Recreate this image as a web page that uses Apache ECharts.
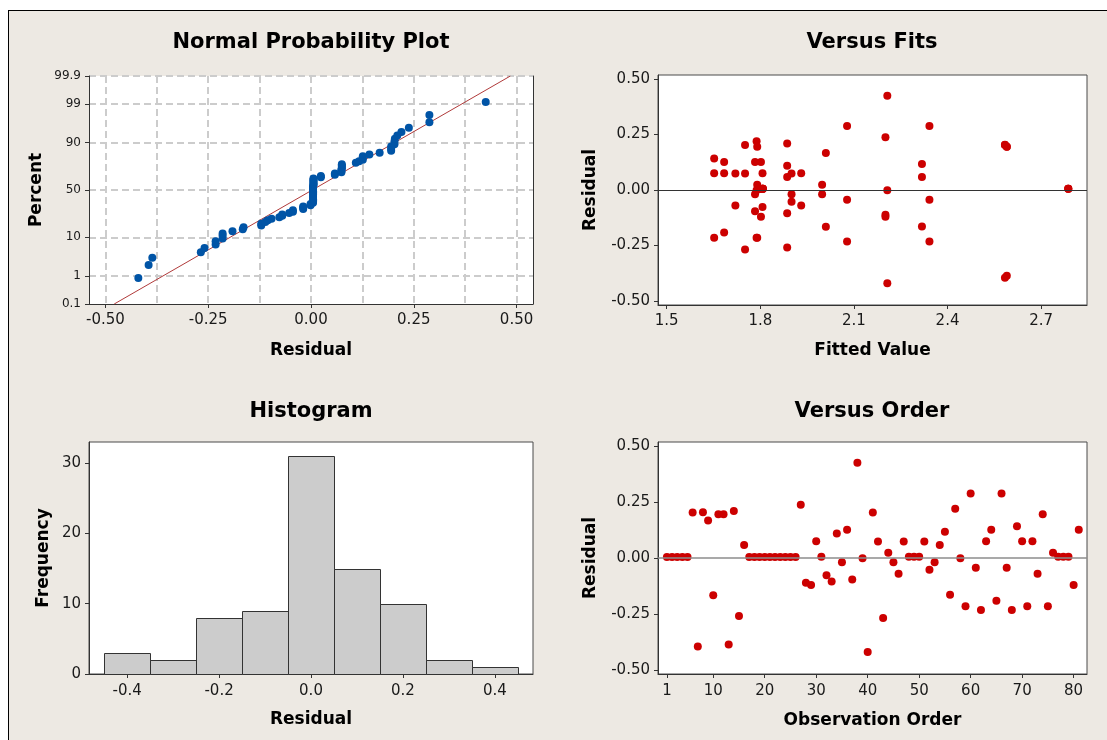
<!DOCTYPE html>
<html>
<head>
<meta charset="utf-8">
<title>Residual Plots</title>
<script src="https://cdn.jsdelivr.net/npm/echarts@6/dist/echarts.min.js"></script>
<style>
  html, body { margin: 0; padding: 0; background: #ffffff; width: 1107px; height: 740px; overflow: hidden; }
  #frame { position: absolute; left: 8px; top: 10px; width: 1099px; height: 730px; background: #EDE9E3;
           border-top: 1px solid #000; border-left: 1px solid #000; box-sizing: border-box; }
  #chart { position: absolute; left: 0; top: 0; width: 1107px; height: 740px; }
</style>
</head>
<body>
<div id="frame"></div>
<div id="chart"></div>
<script>
// Residuals in observation order (1..81)
const residuals = [
  0.005, 0.005, 0.005, 0.005, 0.005,
  0.203, -0.395, 0.204, 0.167, -0.166,
  0.195, 0.195, -0.386, 0.210, -0.259,
  0.058, 0.005, 0.005, 0.005, 0.005,
  0.005, 0.005, 0.005, 0.005, 0.005,
  0.005, 0.238, -0.111, -0.121, 0.075,
  0.006, -0.077, -0.105, 0.109, -0.019,
  0.126, -0.096, 0.425, -0.001, -0.420,
  0.203, 0.074, -0.268, 0.024, -0.019,
  -0.070, 0.074, 0.006, 0.006, 0.006,
  0.074, -0.053, -0.019, 0.058, 0.117,
  -0.164, 0.220, -0.001, -0.215, 0.288,
  -0.044, -0.232, 0.075, 0.126, -0.191,
  0.288, -0.044, -0.232, 0.142, 0.075,
  -0.215, 0.075, -0.070, 0.195, -0.215,
  0.024, 0.006, 0.006, 0.006, -0.121,
  0.126
];

// Fitted values, same order as the residuals
const fittedValues = [
  1.795, 1.795, 1.795, 1.795, 1.795,
  2.584, 2.584, 2.584, 2.010, 2.010,
  2.590, 2.590, 2.590, 1.886, 1.886,
  1.886, 1.800, 1.800, 1.800, 1.800,
  1.800, 1.800, 1.800, 1.800, 1.800,
  1.800, 2.201, 2.201, 2.201, 1.807,
  1.807, 1.807, 1.886, 1.886, 1.783,
  1.783, 1.783, 2.207, 2.207, 2.207,
  1.751, 1.751, 1.751, 1.998, 1.998,
  1.720, 1.720, 1.808, 1.808, 1.808,
  1.900, 1.900, 1.900, 2.318, 2.318,
  2.318, 1.788, 1.788, 1.788, 2.078,
  2.078, 2.078, 1.684, 1.684, 1.684,
  2.342, 2.342, 2.342, 1.652, 1.652,
  1.652, 1.931, 1.931, 1.790, 1.790,
  1.790, 2.787, 2.787, 2.787, 1.802,
  1.802
];

// Histogram of residuals
const histBinCenters = [-0.4, -0.3, -0.2, -0.1, 0.0, 0.1, 0.2, 0.3, 0.4];
const histCounts = [3, 2, 8, 9, 31, 15, 10, 2, 1];
const histBinWidth = 0.1;

// Tick values and labels
const percentTicks = [0.1, 1, 10, 50, 90, 99, 99.9];
const percentTickLabels = ['0.1', '1', '10', '50', '90', '99', '99.9'];
const percentGridTicks = [1, 10, 50, 90, 99, 99.9];
const nppResidualTicks = [-0.5, -0.25, 0, 0.25, 0.5];
const nppResidualGrid = [-0.5, -0.375, -0.25, -0.125, 0, 0.125, 0.25, 0.375, 0.5];
const residualTicks = [-0.5, -0.25, 0, 0.25, 0.5];
const fitTicks = [1.5, 1.8, 2.1, 2.4, 2.7];
const histResidualTicks = [-0.4, -0.2, 0, 0.2, 0.4];
const frequencyTicks = [0, 10, 20, 30];
const orderTicks = [1, 10, 20, 30, 40, 50, 60, 70, 80];

// Inverse standard normal CDF (Acklam's rational approximation)
function probit(p) {
  const a = [-3.969683028665376e+01, 2.209460984245205e+02, -2.759285104469687e+02, 1.383577518672690e+02, -3.066479806614716e+01, 2.506628277459239e+00];
  const b = [-5.447609879822406e+01, 1.615858368580409e+02, -1.556989798598866e+02, 6.680131188771972e+01, -1.328068155288572e+01];
  const c = [-7.784894002430293e-03, -3.223964580411365e-01, -2.400758277161838e+00, -2.549732539343734e+00, 4.374664141464968e+00, 2.938163982698783e+00];
  const d = [7.784695709041462e-03, 3.224671290700398e-01, 2.445134137142996e+00, 3.754408661907416e+00];
  const pl = 0.02425, ph = 1 - pl;
  let q, r;
  if (p < pl) {
    q = Math.sqrt(-2 * Math.log(p));
    return (((((c[0]*q+c[1])*q+c[2])*q+c[3])*q+c[4])*q+c[5]) / ((((d[0]*q+d[1])*q+d[2])*q+d[3])*q+1);
  }
  if (p <= ph) {
    q = p - 0.5; r = q * q;
    return (((((a[0]*r+a[1])*r+a[2])*r+a[3])*r+a[4])*r+a[5])*q / (((((b[0]*r+b[1])*r+b[2])*r+b[3])*r+b[4])*r+1);
  }
  q = Math.sqrt(-2 * Math.log(1 - p));
  return -(((((c[0]*q+c[1])*q+c[2])*q+c[3])*q+c[4])*q+c[5]) / ((((d[0]*q+d[1])*q+d[2])*q+d[3])*q+1);
}

const n = residuals.length;
const zTicks = percentTicks.map(p => probit(p / 100));
const zGrid = percentGridTicks.map(p => probit(p / 100));
const zMin = zTicks[0], zMax = zTicks[zTicks.length - 1];

// Normal probability points: sorted residuals against median-rank percentiles
const sorted = residuals.slice().sort((u, v) => u - v);
const nppPoints = sorted.map((r, i) => [r, probit((i + 1 - 0.3) / (n + 0.4))]);

// Fitted normal line from the residual mean and standard deviation
const mean = residuals.reduce((s, v) => s + v, 0) / n;
const sd = Math.sqrt(residuals.reduce((s, v) => s + (v - mean) * (v - mean), 0) / (n - 1));
const nppLine = [[mean + sd * zMin, zMin], [mean + sd * zMax, zMax]];

const fitsPoints = fittedValues.map((f, i) => [f, residuals[i]]);
const orderPoints = residuals.map((r, i) => [i + 1, r]);
const histData = histBinCenters.map((c, i) => [c, histCounts[i]]);

const FONT = 'DejaVu Sans';
const AXIS_COLOR = '#333333';
const RED = '#CC0000';
const BLUE = '#0054A6';

const tickLabel = (size) => ({ fontFamily: FONT, fontSize: size, color: '#1a1a1a' });
const nameStyle = { fontFamily: FONT, fontSize: 17, fontWeight: 'bold', color: '#000' };
const gridDash = { color: '#CCCCCC', width: 2, type: [7, 4] };
const hidden = { show: false };

const grids = [
  { left: 89, top: 76, width: 444, height: 228, show: true, backgroundColor: '#ffffff', borderWidth: 0 },
  { left: 658, top: 75, width: 429, height: 230, show: true, backgroundColor: '#ffffff', borderColor: '#4a4a4a', borderWidth: 1 },
  { left: 89, top: 442, width: 444, height: 232, show: true, backgroundColor: '#ffffff', borderColor: '#4a4a4a', borderWidth: 1 },
  { left: 658, top: 442, width: 429, height: 232, show: true, backgroundColor: '#ffffff', borderColor: '#4a4a4a', borderWidth: 1 }
];

function valueXAxis(gridIndex, min, max, ticks, fmt, name, nameGap, margin) {
  return {
    type: 'value', gridIndex, min, max, position: 'bottom',
    axisLine: { show: true, onZero: false, lineStyle: { color: AXIS_COLOR, width: 1 } },
    axisTick: { show: true, customValues: ticks, length: 4, lineStyle: { color: AXIS_COLOR } },
    axisLabel: Object.assign({ customValues: ticks, formatter: fmt, margin }, tickLabel(15)),
    splitLine: hidden,
    name, nameLocation: 'middle', nameGap, nameTextStyle: nameStyle
  };
}
function valueYAxis(gridIndex, min, max, ticks, fmt, name, nameGap, labelSize) {
  return {
    type: 'value', gridIndex, min, max, position: 'left',
    axisLine: { show: true, onZero: false, lineStyle: { color: AXIS_COLOR, width: 1 } },
    axisTick: { show: true, customValues: ticks, length: 4, lineStyle: { color: AXIS_COLOR } },
    axisLabel: Object.assign({ customValues: ticks, formatter: fmt, margin: 8 }, tickLabel(labelSize)),
    splitLine: hidden,
    name, nameLocation: 'middle', nameGap, nameRotate: 90, nameTextStyle: nameStyle
  };
}

const percentLabel = (v) => {
  let best = 0;
  zTicks.forEach((z, i) => { if (Math.abs(z - v) < Math.abs(zTicks[best] - v)) best = i; });
  return percentTickLabels[best];
};

const xAxes = [
  valueXAxis(0, -0.54, 0.54, nppResidualTicks, v => v.toFixed(2), 'Residual', 38, 9),
  { type: 'value', gridIndex: 0, min: -0.54, max: 0.54, position: 'top',
    axisLine: hidden, axisLabel: hidden,
    axisTick: { show: false, customValues: nppResidualGrid },
    splitLine: { show: true, lineStyle: gridDash } },
  valueXAxis(1, 1.472, 2.847, fitTicks, v => v.toFixed(1), 'Fitted Value', 37, 9),
  valueXAxis(2, -0.483, 0.483, histResidualTicks, v => v.toFixed(1), 'Residual', 37, 10),
  valueXAxis(3, -0.73, 82.6, orderTicks, v => String(v), 'Observation Order', 38, 10)
];

const yAxes = [
  valueYAxis(0, zMin, zMax, zTicks, percentLabel, 'Percent', 44, 12),
  { type: 'value', gridIndex: 0, min: zMin, max: zMax, position: 'right',
    axisLine: { show: true, onZero: false, lineStyle: { color: AXIS_COLOR, width: 1 } },
    axisLabel: hidden,
    axisTick: { show: false, customValues: zGrid },
    splitLine: { show: true, lineStyle: gridDash } },
  valueYAxis(1, -0.518, 0.518, residualTicks, v => v.toFixed(2), 'Residual', 59, 15),
  valueYAxis(2, 0, 33, frequencyTicks, v => String(v), 'Frequency', 37, 15),
  valueYAxis(3, -0.518, 0.518, residualTicks, v => v.toFixed(2), 'Residual', 59, 15)
];

const zeroLine = (xIdx, yIdx, color, width) => ({
  type: 'line', xAxisIndex: xIdx, yAxisIndex: yIdx, data: [], z: 1, silent: true,
  markLine: { silent: true, symbol: 'none', label: { show: false }, animation: false,
              lineStyle: { color, width, type: 'solid' }, data: [{ yAxis: 0 }] }
});

const titleText = (text, x, y) => ({
  type: 'text', x, y, silent: true,
  style: { text, fontFamily: FONT, fontSize: 21, fontWeight: 'bold', fill: '#000',
           align: 'center', verticalAlign: 'middle', textAlign: 'center', textVerticalAlign: 'middle' }
});

const dotStyle = (color) => ({ color, opacity: 1 });

const option = {
  backgroundColor: 'transparent',
  animation: false,
  grid: grids,
  xAxis: xAxes,
  yAxis: yAxes,
  graphic: [
    titleText('Normal Probability Plot', 311, 43),
    titleText('Versus Fits', 872, 43),
    titleText('Histogram', 311, 412),
    titleText('Versus Order', 872, 412)
  ],
  series: [
    { type: 'line', xAxisIndex: 0, yAxisIndex: 0, data: nppLine, symbol: 'none', z: 2,
      lineStyle: { color: '#B03A3A', width: 1 } },
    { type: 'scatter', xAxisIndex: 0, yAxisIndex: 0, data: nppPoints, symbolSize: 8, z: 3,
      itemStyle: dotStyle(BLUE) },
    zeroLine(2, 2, '#333333', 1),
    { type: 'scatter', xAxisIndex: 2, yAxisIndex: 2, data: fitsPoints, symbolSize: 8, z: 3,
      itemStyle: dotStyle(RED) },
    { type: 'custom', xAxisIndex: 3, yAxisIndex: 3, data: histData, z: 2,
      renderItem: (params, api) => {
        const c = api.value(0), h = api.value(1);
        const p0 = api.coord([c - histBinWidth / 2, h]);
        const p1 = api.coord([c + histBinWidth / 2, 0]);
        return { type: 'rect',
          shape: { x: Math.round(p0[0]) + 0.5, y: Math.round(p0[1]) + 0.5,
                   width: Math.round(p1[0]) - Math.round(p0[0]), height: Math.round(p1[1]) - Math.round(p0[1]) },
          style: { fill: '#CCCCCC', stroke: '#333333', lineWidth: 1 } };
      } },
    zeroLine(4, 4, '#8C8C8C', 1.5),
    { type: 'scatter', xAxisIndex: 4, yAxisIndex: 4, data: orderPoints, symbolSize: 8, z: 3,
      itemStyle: dotStyle(RED) }
  ]
};

const chart = echarts.init(document.getElementById('chart'), null, { renderer: 'canvas' });
chart.setOption(option);
</script>
</body>
</html>
